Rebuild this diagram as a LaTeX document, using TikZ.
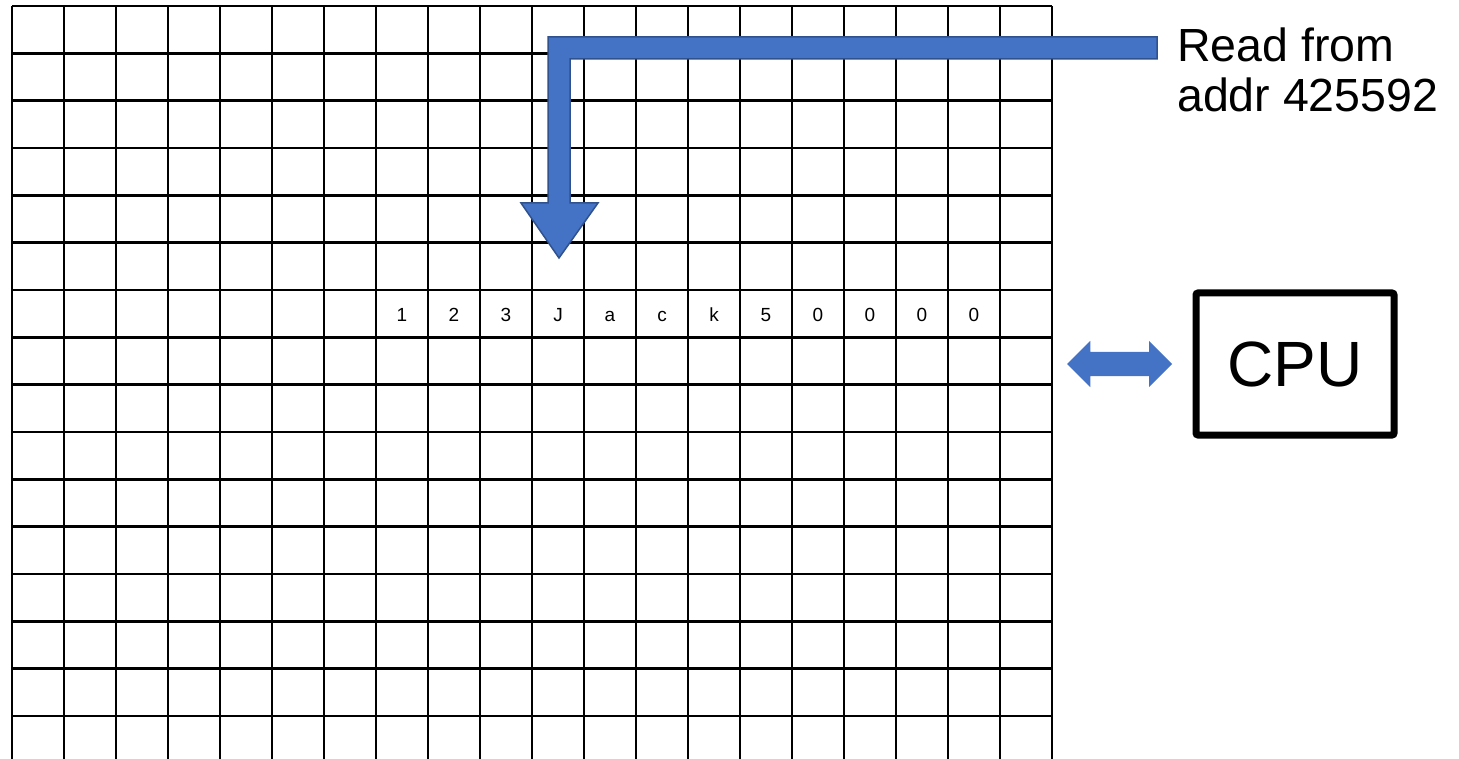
\documentclass[tikz,border=0pt]{standalone}
\usepackage{fontspec}
\setmainfont{Liberation Sans}
\usepackage{tikz}
\usetikzlibrary{
  positioning,
  shapes.arrows,
  calc
}
\definecolor{memblue}{RGB}{68,114,196}
\definecolor{memedge}{RGB}{47,82,143}

\begin{document}
\begin{tikzpicture}[
  x=1pt, y=-1pt,
  gridline/.style={line width=2.8pt, black},
  cellval/.style={font=\fontsize{19}{19}\selectfont, anchor=base, inner sep=0pt},
  lbl/.style={font=\fontsize{46.5}{50}\selectfont, align=left, inner sep=0pt},
  cpubox/.style={draw, line width=7pt, rounded corners=2pt,
                 minimum width=198pt, minimum height=142pt,
                 font=\fontsize{64}{64}\selectfont},
  dblarrow/.style={double arrow, fill=memblue, inner xsep=0pt, inner ysep=12pt,
                   minimum height=105pt, minimum width=46pt,
                   double arrow head extend=11pt, double arrow head indent=0pt},
  bentarr/.style={fill=memblue, draw=memedge, line width=1.5pt},
]
\useasboundingbox (0,0) rectangle (1459,759);

% memory cells
\foreach \i in {0,...,20}
  \draw[gridline] (12+52*\i,6) -- (12+52*\i,759);
\foreach \j in {0,...,15}
  \draw[gridline] (12,6+47.33*\j) -- (1052,6+47.33*\j);

% stored bytes
\foreach \v [count=\k from 7] in {1,2,3,J,a,c,k,5,0,0,0,0}
  \node[cellval] (cell\k) at (38+52*\k,321) {\v};

\node[lbl, anchor=base west] (readlbl) at (1177,111.5) {Read from\\addr 425592};

\node[cpubox] (cpu) at (1295,364) {CPU};
\node[dblarrow, left=20pt of cpu] (link) {};

% address arrow
\draw[bentarr] (1157,37) -- (548,37) -- (548,203) -- (521,203)
  -- (559,258) -- (598,203) -- (570,203) -- (570,59) -- (1157,59) -- cycle;

\end{tikzpicture}
\end{document}
